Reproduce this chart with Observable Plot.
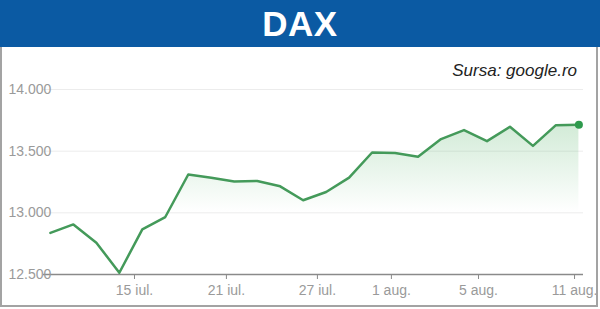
<!DOCTYPE html>
<html><head><meta charset="utf-8">
<script src="https://cdn.jsdelivr.net/npm/d3@7"></script>
<script src="https://cdn.jsdelivr.net/npm/@observablehq/plot@0.6"></script>
<style>
html,body{margin:0;padding:0;background:#fff;width:600px;height:309px;overflow:hidden;}
#banner{position:absolute;left:0;top:0;width:600px;height:47px;background:#0b5aa3;color:#fff;font:bold 35px "Liberation Sans",Arial,sans-serif;text-align:center;line-height:48px;letter-spacing:0.5px;}
#frame{position:absolute;left:0;top:47px;width:598px;height:260px;border:2px solid #a3a3a3;border-top:none;box-sizing:border-box;pointer-events:none;z-index:2;}
#source{position:absolute;right:23px;top:62px;font:italic 17px/1 "Liberation Sans",Arial,sans-serif;color:#222;z-index:3;}
#chart{position:absolute;left:0;top:47px;width:600px;height:262px;}
</style>
</head><body>
<div id="banner">DAX</div>
<div id="source">Sursa: google.ro</div>
<div id="chart"></div>
<div id="frame"></div>
<script>
const values = [12837,12906,12758,12514,12866,12966,13311,13285,13254,13258,13215,13102,13169,13285,13489,13486,13455,13598,13671,13581,13698,13543,13711,13714];
const xTickPos = [3.66,7.66,11.62,14.84,18.63,22.81];
const xTickLabels = ["15 iul.","21 iul.","27 iul.","1 aug.","5 aug.","11 aug."];
const yTicks = [12500,13000,13500,14000];
const gridValues = [13000,13500,14000];

const data = values.map((v, i) => ({i, v}));
const fmt = d => d3.format(",")(d).replace(/,/g, ".");

const plot = Plot.plot({
  width: 600,
  height: 262,
  marginTop: 42,
  marginBottom: 35,
  marginLeft: 43,
  marginRight: 17,
  style: {fontFamily: '"Liberation Sans Narrow","Liberation Sans",Arial,sans-serif', fontSize: "14px", color: "#9a9a9a", background: "transparent"},
  x: {domain: [-0.3, 23.2], label: null},
  y: {domain: [12500, 14000], label: null},
  marks: [
    Plot.ruleY(gridValues, {stroke: "#ececec", strokeWidth: 1}),
    Plot.areaY(data, {x: "i", y1: 12500, y2: "v", fill: "url(#daxGrad)"}),
    Plot.ruleY([yTicks[0]], {stroke: "#8a8a8a", strokeWidth: 1.5}),
    Plot.axisY(yTicks, {tickSize: 0, tickPadding: 0, textAnchor: "start", dx: -35, tickFormat: fmt, label: null}),
    Plot.axisX(xTickPos, {tickSize: 5, tickPadding: 6, stroke: "#8a8a8a", tickFormat: d => xTickLabels[xTickPos.indexOf(d)], label: null}),
    Plot.line(data, {x: "i", y: "v", stroke: "#449a5a", strokeWidth: 2.5}),
    Plot.dot([data[data.length - 1]], {x: "i", y: "v", r: 4, fill: "#2e9a4d"})
  ]
});

const ys = plot.scale("y");
const yTop = ys.apply(d3.max(values));
const yBot = ys.apply(gridValues[0]);
const svg = d3.select(plot);
const grad = svg.insert("defs", ":first-child").append("linearGradient")
  .attr("id", "daxGrad").attr("gradientUnits", "userSpaceOnUse")
  .attr("x1", 0).attr("x2", 0).attr("y1", yTop).attr("y2", yBot);
grad.append("stop").attr("offset", 0).attr("stop-color", "#4caf60").attr("stop-opacity", 0.25);
grad.append("stop").attr("offset", 1).attr("stop-color", "#4caf60").attr("stop-opacity", 0.0);

document.getElementById("chart").appendChild(plot);
</script>
</body></html>
